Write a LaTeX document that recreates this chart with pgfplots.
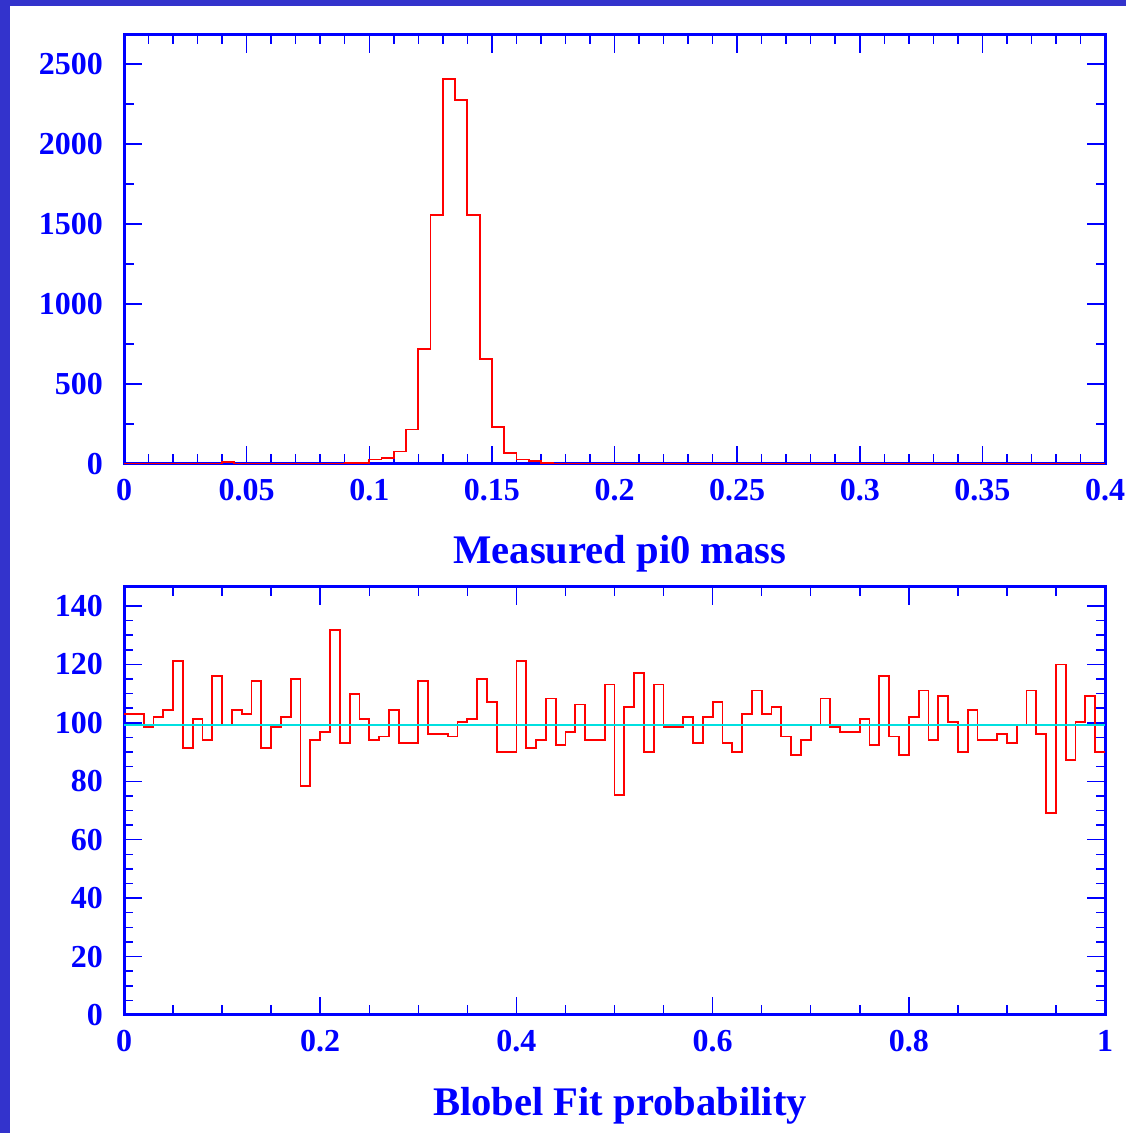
\documentclass[border=0pt]{standalone}
\usepackage{fontspec}
\setmainfont{Liberation Serif}
\usepackage{pgfplots}
\pgfplotsset{compat=1.18}
\definecolor{framecol}{RGB}{51,51,204}
\definecolor{axblue}{RGB}{0,0,255}
\definecolor{histred}{RGB}{255,0,0}
\definecolor{fitcyan}{RGB}{0,224,224}

\pgfplotsset{
  hbook/.style={
    scale only axis,
    width=490.5pt,
    axis line style={axblue, line width=1.5pt},
    tick style={axblue, line width=0.75pt},
    major tick length=9pt,
    minor tick length=4.75pt,
    tick align=inside,
    ticklabel style={text=axblue, font=\fontsize{16}{19}\selectfont\bfseries},
    /pgf/number format/assume math mode=true,
    yticklabel style={xshift=-7pt},
    xticklabel style={yshift=-4pt},
  }
}

\begin{document}
\begin{tikzpicture}
\useasboundingbox (0,0) rectangle (563pt,566.5pt);
\fill[white] (0,0) rectangle (563pt,566.5pt);
\fill[framecol] (0,0) rectangle (5pt,566.5pt);
\fill[framecol] (0,563.5pt) rectangle (563pt,566.5pt);

% top: pi0 mass, bins of 0.005
\begin{axis}[hbook,
    at={(62pt,334.5pt)}, anchor=south west, height=214.5pt,
    xmin=0, xmax=0.4, ymin=0, ymax=2680,
    xtick={0,0.05,0.1,0.15,0.2,0.25,0.3,0.35,0.4},
    xticklabels={0,0.05,0.1,0.15,0.2,0.25,0.3,0.35,0.4},
    minor x tick num=4,
    ytick={0,500,1000,1500,2000,2500},
    yticklabels={0,500,1000,1500,2000,2500},
    minor y tick num=1]
\addplot[const plot, draw=histred, line width=0.9pt] coordinates {
    (0,0)(0.04,10)(0.045,0)(0.09,8)(0.095,8)(0.1,28)(0.105,36)
    (0.11,78)(0.115,216)(0.12,716)(0.125,1553)(0.13,2403)(0.135,2276)
    (0.14,1553)(0.145,658)(0.15,230)(0.155,70)(0.16,28)(0.165,18)
    (0.17,8)(0.175,0)(0.4,0)
};
\end{axis}

% bottom: fit probability, bins of 0.01
\begin{axis}[hbook,
    at={(62pt,59pt)}, anchor=south west, height=214pt,
    xmin=0, xmax=1, ymin=0, ymax=146.5,
    xtick={0,0.2,0.4,0.6,0.8,1},
    xticklabels={0,0.2,0.4,0.6,0.8,1},
    minor x tick num=3,
    ytick={0,20,40,60,80,100,120,140},
    yticklabels={0,20,40,60,80,100,120,140},
    minor y tick num=3]
\addplot[const plot, draw=histred, line width=0.9pt] coordinates {
    (0,103.0)(0.01,103.0)(0.02,98.5)(0.03,102.1)(0.04,104.5)
    (0.05,121.2)(0.06,91.3)(0.07,101.2)(0.08,94.0)(0.09,116.1)
    (0.10,99.3)(0.11,104.5)(0.12,103.0)(0.13,114.3)(0.14,91.3)
    (0.15,98.5)(0.16,102.1)(0.17,115.1)(0.18,78.3)(0.19,94.0)
    (0.20,97.0)(0.21,131.9)(0.22,93.2)(0.23,110.0)(0.24,101.2)
    (0.25,94.0)(0.26,95.3)(0.27,104.5)(0.28,93.2)(0.29,93.2)
    (0.30,114.3)(0.31,96.1)(0.32,96.1)(0.33,95.3)(0.34,100.3)
    (0.35,101.2)(0.36,115.1)(0.37,107.1)(0.38,89.9)(0.39,89.9)
    (0.40,121.2)(0.41,91.3)(0.42,94.0)(0.43,108.3)(0.44,92.3)
    (0.45,97.0)(0.46,106.3)(0.47,94.0)(0.48,94.0)(0.49,113.1)
    (0.50,75.2)(0.51,105.4)(0.52,117.1)(0.53,89.9)(0.54,113.1)
    (0.55,98.5)(0.56,98.5)(0.57,102.1)(0.58,93.2)(0.59,102.1)
    (0.60,107.1)(0.61,93.2)(0.62,89.9)(0.63,103.0)(0.64,111.1)
    (0.65,103.0)(0.66,105.4)(0.67,95.3)(0.68,89.1)(0.69,94.0)
    (0.70,99.3)(0.71,108.3)(0.72,98.5)(0.73,97.0)(0.74,97.0)
    (0.75,101.2)(0.76,92.3)(0.77,116.1)(0.78,95.3)(0.79,89.1)
    (0.80,102.1)(0.81,111.1)(0.82,94.0)(0.83,109.1)(0.84,100.3)
    (0.85,89.9)(0.86,104.5)(0.87,94.0)(0.88,94.0)(0.89,96.1)
    (0.90,93.2)(0.91,99.3)(0.92,111.1)(0.93,96.1)(0.94,69.1)
    (0.95,120.0)(0.96,87.2)(0.97,100.3)(0.98,109.1)(0.99,89.9)
    (1,89.9)
};
\addplot[draw=fitcyan, line width=0.8pt] coordinates {(0,99.3)(1,99.3)};
\end{axis}

\node[anchor=base, text=axblue, font=\fontsize{20.3}{24}\selectfont\bfseries]
    at (310pt,284.9pt) {Measured pi0 mass};
\node[anchor=base, text=axblue, font=\fontsize{20.3}{24}\selectfont\bfseries]
    at (310pt,9pt) {Blobel Fit probability};
\end{tikzpicture}
\end{document}
